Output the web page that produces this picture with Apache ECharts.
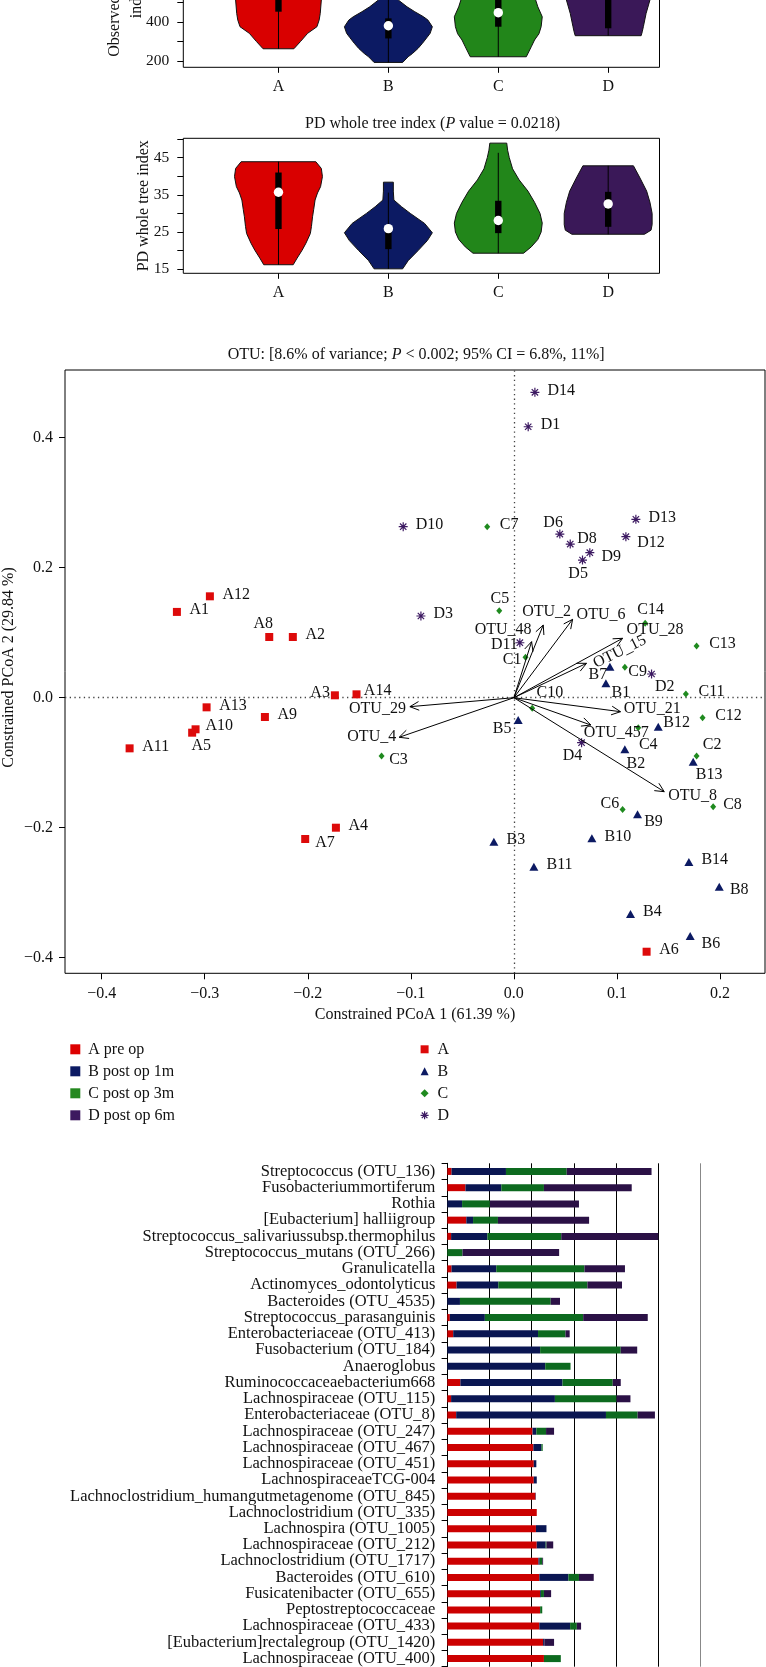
<!DOCTYPE html>
<html><head><meta charset="utf-8">
<script src="https://cdn.jsdelivr.net/npm/echarts@6/dist/echarts.min.js"></script>
<style>html,body{margin:0;padding:0;background:#fff;overflow:hidden;width:766px;height:1667px;position:relative}#chart{position:absolute;left:0;top:-100px;width:766px;height:1767px}</style>
</head><body><div id="chart"></div>
<script>
const FF = "'Liberation Serif','DejaVu Serif',serif";
const OFF = 100; // the canvas starts 100px above the page top (the first panel is cut off by the page edge)
const Y = v => v + OFF;

// ---------- groups ----------
const groupKeys = ['A', 'B', 'C', 'D'];
const groupNames = ['A pre op', 'B post op 1m', 'C post op 3m', 'D post op 6m'];

// ---------- violin panel 1: Observed species index ----------
const obsTicks = [200, 300, 400, 500, 600, 700, 800];
const obsTickLabels = [200, 400, 600, 800];
// [value, half-width (group units)]
const obsViolinA = [[263,0.14],[300,0.20],[342,0.265],[376,0.35],[410,0.37],[444,0.38],[513,0.39],[570,0.40],[630,0.36],[690,0.26],[740,0.14],[760,0.08]];
const obsViolinB = [[193,0.13],[222,0.18],[239,0.22],[265,0.27],[291,0.31],[320,0.35],[342,0.38],[376,0.40],[410,0.36],[427,0.32],[453,0.24],[478,0.17],[513,0.09],[540,0.05],[580,0.03],[600,0.03]];
const obsViolinC = [[222,0.255],[273,0.30],[308,0.33],[340,0.37],[376,0.39],[427,0.40],[478,0.36],[513,0.34],[560,0.28],[620,0.18],[680,0.08],[700,0.05]];
const obsViolinD = [[330,0.30],[350,0.31],[376,0.32],[444,0.345],[513,0.38],[560,0.40],[620,0.38],[680,0.30],[720,0.22]];
// [min, q1, median, q3, max]
const obsStatsA = [263, 453, 560, 640, 760];
const obsStatsB = [193, 316, 381, 419, 560];
const obsStatsC = [222, 376, 448, 540, 700];
const obsStatsD = [330, 368, 560, 640, 720];

// ---------- violin panel 2: PD whole tree index ----------
const pdTicks = [15, 20, 25, 30, 35, 40, 45, 50];
const pdTickLabels = [15, 25, 35, 45];
const pdViolinA = [[16.2,0.134],[18,0.17],[20.1,0.215],[22,0.25],[24.6,0.29],[26.5,0.30],[29.1,0.31],[31,0.32],[33.6,0.333],[35.5,0.355],[37.2,0.383],[39.9,0.40],[42.1,0.39],[43.9,0.34]];
const pdViolinB = [[15.1,0.13],[17.3,0.18],[20,0.27],[22.7,0.355],[24.8,0.40],[27.3,0.33],[30,0.20],[31.8,0.12],[33.6,0.05],[36,0.045],[38.4,0.045]];
const pdViolinC = [[19.3,0.23],[21,0.30],[23,0.36],[25,0.39],[27.4,0.40],[30,0.38],[33,0.33],[36,0.27],[39,0.19],[42,0.13],[45,0.10],[47,0.085],[48.9,0.077]];
const pdViolinD = [[24.4,0.33],[25.5,0.39],[27,0.40],[30,0.40],[33,0.38],[36,0.35],[39.5,0.29],[42.8,0.23]];
const pdStatsA = [16.2, 25.8, 35.7, 41.0, 43.9];
const pdStatsB = [15.1, 20.4, 25.9, 26.5, 35.6];
const pdStatsC = [19.3, 24.7, 28.1, 33.4, 46.3];
const pdStatsD = [24.4, 26.4, 32.55, 35.8, 42.8];

// ---------- constrained PCoA ----------
const pcoaXTicks = [-0.4, -0.3, -0.2, -0.1, 0, 0.1, 0.2];
const pcoaYTicks = [-0.4, -0.2, 0, 0.2, 0.4];
const pcoaA = [[-0.327,0.132,'A1'],[-0.2145,0.0934,'A2'],[-0.1737,0.0037,'A3'],[-0.1727,-0.200,'A4'],[-0.3122,-0.0538,'A5'],[0.1288,-0.3908,'A6'],[-0.2025,-0.2174,'A7'],[-0.2374,0.0934,'A8'],[-0.2416,-0.0297,'A9'],[-0.3089,-0.0486,'A10'],[-0.3729,-0.0779,'A11'],[-0.295,0.156,'A12'],[-0.2982,-0.0148,'A13'],[-0.1527,0.0052,'A14']];
const pcoaB = [[0.0893,0.0221,'B1'],[0.1077,-0.0794,'B2'],[-0.0194,-0.2215,'B3'],[0.1132,-0.3328,'B4'],[0.0042,-0.0343,'B5'],[0.1711,-0.3666,'B6'],[0.0932,0.0478,'B7'],[0.1993,-0.2908,'B8'],[0.1200,-0.1794,'B9'],[0.0757,-0.2164,'B10'],[0.0194,-0.2600,'B11'],[0.1401,-0.0446,'B12'],[0.1740,-0.0985,'B13'],[0.1698,-0.2528,'B14']];
const pcoaC = [[0.0113,0.0621,'C1'],[0.1773,-0.0897,'C2'],[-0.1284,-0.0897,'C3'],[0.1207,-0.0461,'C4'],[-0.0142,0.1338,'C5'],[0.1055,-0.1718,'C6'],[-0.0259,0.2631,'C7'],[0.1934,-0.1677,'C8'],[0.1077,0.0467,'C9'],[0.0178,-0.0164,'C10'],[0.1669,0.0057,'C11'],[0.1831,-0.0307,'C12'],[0.1773,0.0795,'C13'],[0.1274,0.1144,'C14']];
const pcoaD = [[0.0139,0.4169,'D1'],[0.1336,0.0365,'D2'],[-0.0902,0.1257,'D3'],[0.0657,-0.0692,'D4'],[0.0666,0.2118,'D5'],[0.0446,0.2518,'D6'],[0.0547,0.2364,'D8'],[0.0737,0.2231,'D9'],[-0.1074,0.2631,'D10'],[0.0058,0.0846,'D11'],[0.1087,0.2477,'D12'],[0.1184,0.2744,'D13'],[0.0204,0.4698,'D14']];
const otuArrows = [[0.0285,0.1118,'OTU_2'],[0.0570,0.1206,'OTU_6'],[0.0172,0.0862,'OTU_48'],[0.1055,0.0914,'OTU_28'],[0.0705,0.0529,'OTU_15'],[-0.1009,-0.0138,'OTU_29'],[-0.1113,-0.0609,'OTU_4'],[0.1035,-0.0215,'OTU_21'],[0.0747,-0.0420,'OTU_457'],[0.1459,-0.1446,'OTU_8']];

// ---------- stacked bars ----------
const taxa = ['Streptococcus (OTU_136)','Fusobacteriummortiferum','Rothia','[Eubacterium] halliigroup','Streptococcus_salivariussubsp.thermophilus','Streptococcus_mutans (OTU_266)','Granulicatella','Actinomyces_odontolyticus','Bacteroides (OTU_4535)','Streptococcus_parasanguinis','Enterobacteriaceae (OTU_413)','Fusobacterium (OTU_184)','Anaeroglobus','Ruminococcaceaebacterium668','Lachnospiraceae (OTU_115)','Enterobacteriaceae (OTU_8)','Lachnospiraceae (OTU_247)','Lachnospiraceae (OTU_467)','Lachnospiraceae (OTU_451)','LachnospiraceaeTCG-004','Lachnoclostridium_humangutmetagenome (OTU_845)','Lachnoclostridium (OTU_335)','Lachnospira (OTU_1005)','Lachnospiraceae (OTU_212)','Lachnoclostridium (OTU_1717)','Bacteroides (OTU_610)','Fusicatenibacter (OTU_655)','Peptostreptococcaceae','Lachnospiraceae (OTU_433)','[Eubacterium]rectalegroup (OTU_1420)','Lachnospiraceae (OTU_400)'];
const barPreOp    = [0.10,0.43,0,0.45,0.09,0,0.10,0.22,0,0.06,0.14,0,0,0.31,0.09,0.21,2.02,2.04,2.05,2.05,2.09,2.12,2.10,2.12,2.16,2.18,2.20,2.20,2.18,2.27,2.29];
const barPostOp1m = [1.29,0.85,0.35,0.16,0.86,0,1.06,0.99,0.30,0.83,2.01,2.20,2.32,2.42,2.46,3.55,0.09,0.19,0.06,0.07,0.01,0,0.25,0.21,0.03,0.69,0.02,0,0.73,0.03,0];
const barPostOp3m = [1.44,1.01,0.66,0.59,1.75,0.36,2.09,2.11,2.15,2.33,0.65,1.91,0.60,1.19,1.46,0.75,0.23,0.03,0,0,0,0,0,0.02,0.06,0.25,0.07,0.05,0.16,0,0.40];
const barPostOp6m = [2.01,2.08,2.11,2.16,2.30,2.29,0.96,0.82,0.22,1.53,0.10,0.39,0,0.19,0.33,0.41,0.19,0,0,0,0,0,0,0.16,0.02,0.35,0.17,0,0.10,0.23,0];

// ---------- styles ----------
const violinColors = ['#d90000', '#0c1a63', '#22861a', '#3a1858'];
const pointColors = ['#dd0a0a', '#0c1a63', '#1f8a1f', '#3d1a62'];
const barColors = ['#cc0000', '#0a1652', '#0d6a1f', '#2b1146'];
const legendColors = ['#dd0000', '#0c1a63', '#24881f', '#3d1a5f'];
const ASTER = 'path://M5 0L5 10M0 5L10 5M1.46 1.46L8.54 8.54M1.46 8.54L8.54 1.46';
const defaultAdj = ['left', 12.6, -1.8];
const labelAdj = {
  A8:['center',-6,-13], A3:['right',-5,-2.6], A14:['left',7.3,-3.3], A10:['left',10,-4], A5:['center',9,13], A7:['left',10,3.7],
  B7:['center',-12,8], B1:['center',15,9], B5:['center',-16,9], B12:['left',5,-4], B2:['center',11,14], B13:['center',16,13],
  B9:['center',16,7.4], B8:['left',10.7,3.3], B6:['left',11.4,8],
  C5:['center',0.7,-12.4], C14:['center',5.4,-13.3], C1:['right',-4,2.7], C9:['left',3.5,4.4], C10:['center',17.7,-15.6],
  C4:['center',10,17.3], C2:['center',15.6,-11.7], C3:['left',7.6,4], C6:['center',-12.7,-6], C8:['left',10,-1.7],
  D6:['center',-6.7,-11.3], D8:['left',7,-5.7], D12:['left',11.3,6], D9:['left',11.7,4], D5:['center',-4.4,13.3],
  D11:['right',-2,2.3], D2:['center',13.3,12.7], D4:['center',-9,13.3]
};
// [align, dx, dy, rotateDeg]
const arrowLabelAdj = {
  OTU_2:['center',3.4,-13.3,0], OTU_6:['left',4,-4.3,0], OTU_48:['right',0,-11.7,0], OTU_28:['left',4,-8.3,0],
  OTU_15:['center',33.3,-11.6,26], OTU_29:['right',-4,2.6,0], OTU_4:['right',-3,0,0], OTU_21:['left',3.3,-2.4,0],
  OTU_457:['left',-7,7.7,0], OTU_8:['left',4,4.3,0]
};

function violinSeries(panel, g, profile, stats) {
  return {
    type: 'custom', name: groupNames[g], xAxisIndex: panel, yAxisIndex: panel,
    data: [[g + 1, stats[2]]], silent: true,
    renderItem: function (params, api) {
      const x = api.value(0);
      const left = profile.map(p => api.coord([x - p[1], p[0]]));
      const right = profile.slice().reverse().map(p => api.coord([x + p[1], p[0]]));
      const lo = api.coord([x, stats[0]]), q1 = api.coord([x, stats[1]]), md = api.coord([x, stats[2]]),
            q3 = api.coord([x, stats[3]]), hi = api.coord([x, stats[4]]);
      return { type: 'group', children: [
        { type: 'polygon', shape: { points: left.concat(right) }, style: { fill: violinColors[g], stroke: '#111', lineWidth: 1 } },
        { type: 'line', shape: { x1: lo[0], y1: lo[1], x2: hi[0], y2: hi[1] }, style: { stroke: '#000', lineWidth: 1 } },
        { type: 'rect', shape: { x: q3[0] - 3.2, y: q3[1], width: 6.4, height: q1[1] - q3[1] }, style: { fill: '#000' } },
        { type: 'circle', shape: { cx: md[0], cy: md[1], r: 4.7 }, style: { fill: '#fff' } }
      ] };
    }
  };
}

function scatterSeries(g, arr, symbol, size) {
  const c = pointColors[g];
  return {
    type: 'scatter', name: groupKeys[g], xAxisIndex: 2, yAxisIndex: 2,
    symbol: symbol, symbolSize: size,
    itemStyle: { color: c, borderColor: g === 3 ? c : undefined, borderWidth: g === 3 ? 1.2 : 0, opacity: 1 },
    label: { show: true, position: 'inside', formatter: '{b}', fontFamily: FF, fontSize: 16, color: '#111', verticalAlign: 'middle' },
    data: arr.map(p => {
      const a = labelAdj[p[2]] || defaultAdj;
      return { name: p[2], value: [p[0], p[1]], label: { align: a[0], offset: [a[1], a[2]] } };
    }),
    z: 3
  };
}

const violinAxisX = (gi) => ({
  type: 'value', gridIndex: gi, min: 0.134, max: 4.467,
  axisLine: { show: false, onZero: false }, splitLine: { show: false },
  axisTick: { show: true, customValues: [1, 2, 3, 4], length: 5.5, lineStyle: { color: '#000' } },
  axisLabel: { customValues: [1, 2, 3, 4], formatter: v => groupKeys[Math.round(v) - 1], margin: 11, fontFamily: FF, fontSize: 16, color: '#111' }
});
const violinAxisY = (gi, min, max, ticks, labels) => ({
  type: 'value', gridIndex: gi, min: min, max: max,
  axisLine: { show: false, onZero: false }, splitLine: { show: false },
  axisTick: { show: true, customValues: ticks, length: 6, lineStyle: { color: '#000' } },
  axisLabel: { customValues: labels, margin: 14, fontFamily: FF, fontSize: 15.5, color: '#111' }
});
const fmtSigned = v => (v < -1e-9 ? '\u2212' : '') + Math.abs(v).toFixed(1);

const series = [];
[[obsViolinA, obsStatsA], [obsViolinB, obsStatsB], [obsViolinC, obsStatsC], [obsViolinD, obsStatsD]]
  .forEach((d, g) => series.push(violinSeries(0, g, d[0], d[1])));
[[pdViolinA, pdStatsA], [pdViolinB, pdStatsB], [pdViolinC, pdStatsC], [pdViolinD, pdStatsD]]
  .forEach((d, g) => series.push(violinSeries(1, g, d[0], d[1])));

const sA = scatterSeries(0, pcoaA, 'rect', 8);
sA.markLine = { silent: true, symbol: 'none', label: { show: false },
  lineStyle: { type: [1.3, 3.4], color: '#444', width: 1.3 }, data: [{ xAxis: 0 }, { yAxis: 0 }], z: 1 };
series.push(sA);
series.push(scatterSeries(1, pcoaB, 'triangle', [9, 8]));
series.push(scatterSeries(2, pcoaC, 'diamond', [6, 7]));
series.push(scatterSeries(3, pcoaD, ASTER, 9));

series.push({
  type: 'custom', name: 'OTU arrows', xAxisIndex: 2, yAxisIndex: 2, silent: true, z: 4,
  data: otuArrows.map(a => [a[0], a[1]]),
  renderItem: function (params, api) {
    const o = api.coord([0, 0]);
    const t = api.coord([api.value(0), api.value(1)]);
    const ang = Math.atan2(t[1] - o[1], t[0] - o[0]);
    const L = 10, h = 0.45;
    const p1 = [t[0] - L * Math.cos(ang - h), t[1] - L * Math.sin(ang - h)];
    const p2 = [t[0] - L * Math.cos(ang + h), t[1] - L * Math.sin(ang + h)];
    const name = otuArrows[params.dataIndex][2];
    const adj = arrowLabelAdj[name];
    return { type: 'group', children: [
      { type: 'line', shape: { x1: o[0], y1: o[1], x2: t[0], y2: t[1] }, style: { stroke: '#000', lineWidth: 1 } },
      { type: 'polyline', shape: { points: [p1, t, p2] }, style: { stroke: '#000', lineWidth: 1, fill: null } },
      { type: 'text', x: t[0] + adj[1], y: t[1] + adj[2], rotation: adj[3] * Math.PI / 180,
        style: { text: name, fontFamily: FF, fontSize: 16, fill: '#111', align: adj[0], verticalAlign: 'middle' } }
    ] };
  }
});

[barPreOp, barPostOp1m, barPostOp3m, barPostOp6m].forEach((d, i) => series.push({
  type: 'bar', name: groupNames[i], stack: 'rel', xAxisIndex: 3, yAxisIndex: 3,
  barWidth: 7, data: d, itemStyle: { color: barColors[i] }, silent: true
}));

const option = {
  animation: false,
  backgroundColor: '#fff',
  textStyle: { fontFamily: FF },
  grid: [
    { left: 183.3, top: Y(-67.7), width: 476.2, height: 135, show: true, borderColor: '#000', borderWidth: 1, backgroundColor: 'transparent' },
    { left: 183.3, top: Y(138.3), width: 476.2, height: 135, show: true, borderColor: '#000', borderWidth: 1, backgroundColor: 'transparent' },
    { left: 65, top: Y(370), width: 700, height: 603.3, show: true, borderColor: '#000', borderWidth: 1, backgroundColor: 'transparent' },
    { left: 447.3, top: Y(1163.3), width: 253.2, height: 509.3, show: false }
  ],
  xAxis: [
    violinAxisX(0), violinAxisX(1),
    { type: 'value', gridIndex: 2, min: -0.4356, max: 0.2437,
      axisLine: { show: false, onZero: false }, splitLine: { show: false },
      axisTick: { show: true, customValues: pcoaXTicks, length: 6, lineStyle: { color: '#000' } },
      axisLabel: { customValues: pcoaXTicks, formatter: fmtSigned, margin: 12, fontFamily: FF, fontSize: 16, color: '#111' } },
    { type: 'value', gridIndex: 3, min: 0, max: 6, interval: 1,
      axisLine: { show: false }, axisTick: { show: false }, axisLabel: { show: false },
      splitLine: { show: true, lineStyle: { color: ['#000', '#000', '#000', '#000', '#000', '#000', '#888'], width: 1 } } }
  ],
  yAxis: [
    violinAxisY(0, 168, 860, obsTicks, obsTickLabels),
    violinAxisY(1, 13.9, 50.2, pdTicks, pdTickLabels),
    { type: 'value', gridIndex: 2, min: -0.424, max: 0.5042,
      axisLine: { show: false, onZero: false }, splitLine: { show: false },
      axisTick: { show: true, customValues: pcoaYTicks, length: 6, lineStyle: { color: '#000' } },
      axisLabel: { customValues: pcoaYTicks, formatter: fmtSigned, margin: 12, fontFamily: FF, fontSize: 16, color: '#111' } },
    { type: 'category', gridIndex: 3, data: taxa, inverse: true,
      axisLine: { show: true, lineStyle: { color: '#000', width: 1 } },
      axisTick: { show: true, length: 5.7, interval: 0, lineStyle: { color: '#000' } },
      axisLabel: { interval: 0, margin: 12, fontFamily: FF, fontSize: 16.5, color: '#111' },
      splitLine: { show: false } }
  ],
  legend: [
    { left: 65.3, top: Y(1035.3), orient: 'vertical', itemWidth: 10, itemHeight: 10, itemGap: 4, icon: 'rect', selectedMode: false,
      textStyle: { fontFamily: FF, fontSize: 16, color: '#111', lineHeight: 18, padding: [0, 0, 0, 3] },
      data: groupNames.map((n, i) => ({ name: n, itemStyle: { color: legendColors[i], borderWidth: 0 } })) },
    { left: 415, top: Y(1035.3), orient: 'vertical', itemWidth: 8, itemHeight: 8, itemGap: 4, selectedMode: false,
      textStyle: { fontFamily: FF, fontSize: 16, color: '#111', lineHeight: 18, padding: [0, 0, 0, 4] },
      data: [
        { name: 'A', icon: 'rect', itemStyle: { color: pointColors[0], borderWidth: 0 } },
        { name: 'B', icon: 'triangle', itemStyle: { color: pointColors[1], borderWidth: 0 } },
        { name: 'C', icon: 'diamond', itemStyle: { color: pointColors[2], borderWidth: 0 } },
        { name: 'D', icon: ASTER, itemStyle: { color: pointColors[3], borderColor: pointColors[3], borderWidth: 1.2 } }
      ] }
  ],
  graphic: [
    { type: 'text', x: 115, y: Y(56.7), rotation: Math.PI / 2, style: { text: 'Observed species', fontFamily: FF, fontSize: 16, fill: '#111', align: 'left', verticalAlign: 'middle' } },
    { type: 'text', x: 137, y: Y(18.3), rotation: Math.PI / 2, style: { text: 'index', fontFamily: FF, fontSize: 16, fill: '#111', align: 'left', verticalAlign: 'middle' } },
    { type: 'text', x: 305, y: Y(124), style: { text: '{a|PD whole tree index (}{i|P}{a| value = 0.0218)}', fontFamily: FF, fontSize: 16, fill: '#111', align: 'left', verticalAlign: 'middle',
      rich: { a: { fontFamily: FF, fontSize: 16, fill: '#111' }, i: { fontFamily: FF, fontSize: 16, fontStyle: 'italic', fill: '#111' } } } },
    { type: 'text', x: 144, y: Y(205.8), rotation: Math.PI / 2, style: { text: 'PD whole tree index', fontFamily: FF, fontSize: 16, fill: '#111', align: 'center', verticalAlign: 'middle' } },
    { type: 'text', x: 227.7, y: Y(355), style: { text: '{a|OTU: [8.6% of variance; }{i|P}{a| < 0.002; 95% CI = 6.8%, 11%]}', fontFamily: FF, fontSize: 16, fill: '#111', align: 'left', verticalAlign: 'middle',
      rich: { a: { fontFamily: FF, fontSize: 16, fill: '#111' }, i: { fontFamily: FF, fontSize: 16, fontStyle: 'italic', fill: '#111' } } } },
    { type: 'text', x: 8.5, y: Y(667.5), rotation: Math.PI / 2, style: { text: 'Constrained PCoA 2 (29.84 %)', fontFamily: FF, fontSize: 16, fill: '#111', align: 'center', verticalAlign: 'middle' } },
    { type: 'text', x: 415, y: Y(1015), style: { text: 'Constrained PCoA 1 (61.39 %)', fontFamily: FF, fontSize: 16, fill: '#111', align: 'center', verticalAlign: 'middle' } }
  ],
  series: series
};

const chart = echarts.init(document.getElementById('chart'), null, { renderer: 'canvas', width: 766, height: 1667 + OFF });
chart.setOption(option);
</script></body></html>
